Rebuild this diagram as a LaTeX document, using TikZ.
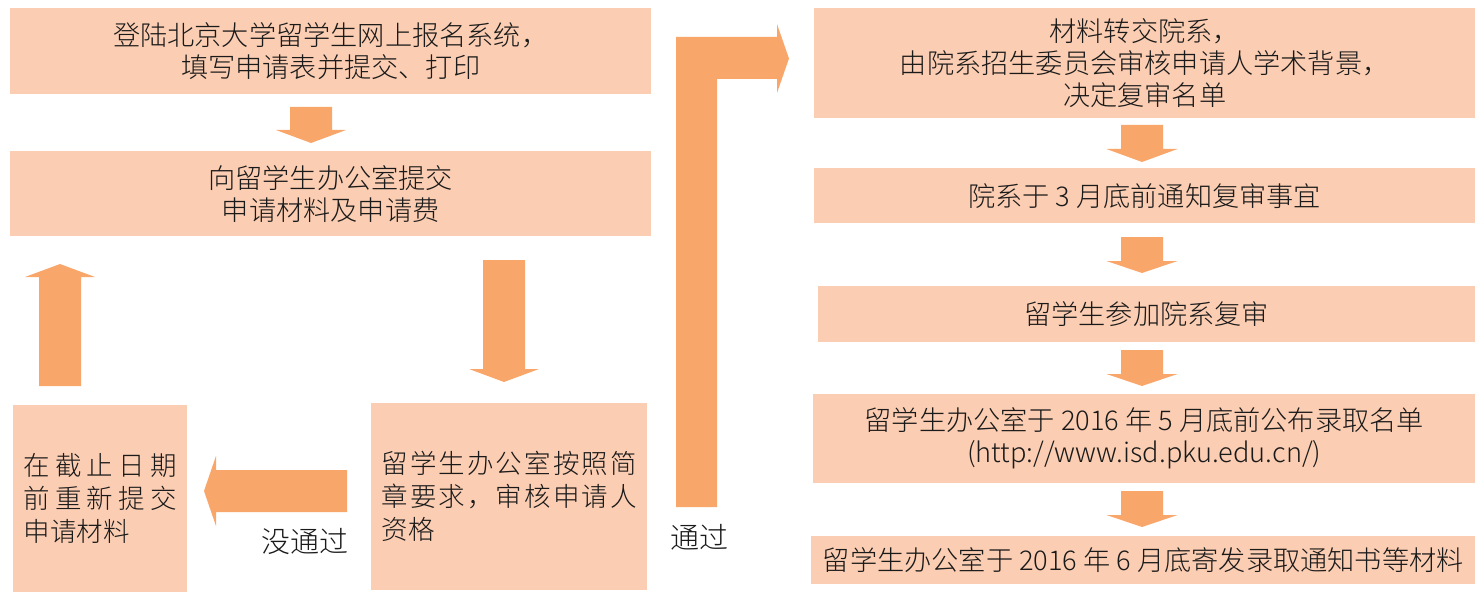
\documentclass[tikz,border=0pt]{standalone}
\usepackage{fontspec}
\setmainfont{Noto Sans CJK SC}[UprightFont=* Light]
\definecolor{boxc}{HTML}{FBCDB2}
\definecolor{arrc}{HTML}{F9A66B}
\definecolor{txt}{HTML}{1A1A1A}
% vertical block arrow: cx, start y, head base y, tip y, shaft half, head half
\newcommand\vblk[6]{\fill[arrc] (#1-#5,#2) -- (#1+#5,#2) -- (#1+#5,#3) -- (#1+#6,#3) -- (#1,#4) -- (#1-#6,#3) -- (#1-#5,#3) -- cycle;}
% horizontal block arrow: cy, start x, head base x, tip x, shaft half, head half
\newcommand\hblk[6]{\fill[arrc] (#2,#1-#5) -- (#2,#1+#5) -- (#3,#1+#5) -- (#3,#1+#6) -- (#4,#1) -- (#3,#1-#6) -- (#3,#1-#5) -- cycle;}
\begin{document}
\begin{tikzpicture}[x=1pt,y=-1pt,
  box/.style={fill=boxc, draw=none, inner sep=0pt, anchor=north west, text=txt,
    font=\fontsize{27.2}{32}\selectfont, align=center},
  lbl/.style={inner sep=0pt, text=txt, font=\fontsize{29}{34}\selectfont}]
\useasboundingbox (0,0) rectangle (1478,599);
% left column
\node[box, minimum width=641, minimum height=86] (b1) at (10,8)
  {登陆北京大学留学生网上报名系统，\\填写申请表并提交、打印};
\node[box, minimum width=641, minimum height=85] (b2) at (10,151)
  {向留学生办公室提交\\申请材料及申请费};
\node[box, minimum width=174, minimum height=187, font=\fontsize{26.5}{33}\selectfont, align=left, text width=153] (b3) at (13,405)
  {\makebox[153pt][s]{在\hfill 截\hfill 止\hfill 日\hfill 期}\\
   \makebox[153pt][s]{前\hfill 重\hfill 新\hfill 提\hfill 交}\\
   申请材料};
\node[box, minimum width=276, minimum height=187, font=\fontsize{26.5}{33}\selectfont, align=left, text width=255] (b4) at (371,403)
  {\makebox[255pt][s]{留\hfill 学\hfill 生\hfill 办\hfill 公\hfill 室\hfill 按\hfill 照\hfill 简}\\
   \makebox[255pt][s]{章\hfill 要\hfill 求\hfill ，\hfill 审\hfill 核\hfill 申\hfill 请\hfill 人}\\
   资格};
% right column
\node[box, minimum width=661, minimum height=110] (r1) at (814,8)
  {材料转交院系，\\由院系招生委员会审核申请人学术背景，\\决定复审名单};
\node[box, minimum width=661, minimum height=55] (r2) at (814,168)
  {院系于 3 月底前通知复审事宜};
\node[box, minimum width=657, minimum height=56] (r3) at (818,286)
  {留学生参加院系复审};
\node[box, minimum width=662, minimum height=89] (r4) at (813,394)
  {留学生办公室于 2016 年 5 月底前公布录取名单\\(http://www.isd.pku.edu.cn/)};
\node[box, minimum width=664, minimum height=48] (r5) at (811,536)
  {留学生办公室于 2016 年 6 月底寄发录取通知书等材料};
% labels
\node[lbl] (nopass) at (305,542) {没通过};
\node[lbl] (pass) at (699,537) {通过};
% block arrows
\vblk{311}{107}{130}{143}{21}{35}
\vblk{504}{260}{369}{382}{21}{35}
\vblk{60}{386}{277}{264}{21}{35}
\hblk{491}{347}{216}{204}{21}{35}
\vblk{1142}{125}{149}{162}{21}{35.5}
\vblk{1142}{237}{261}{273}{21}{35.5}
\vblk{1142}{350}{374}{386}{21}{35.5}
\vblk{1142}{491}{515}{527}{21}{35.5}
\fill[arrc] (676,507) -- (676,37) -- (777,37) -- (777,24) -- (789,58.5) -- (777,93) -- (777,79) -- (717,79) -- (717,507) -- cycle;
\end{tikzpicture}
\end{document}
